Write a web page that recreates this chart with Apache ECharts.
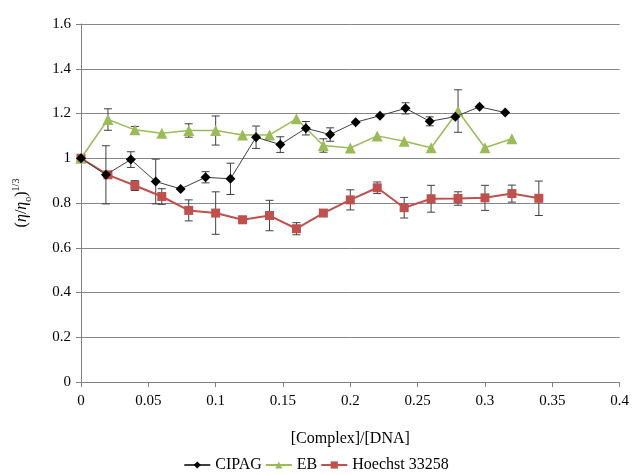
<!DOCTYPE html>
<html>
<head>
<meta charset="utf-8">
<script src="https://cdn.jsdelivr.net/npm/echarts@6/dist/echarts.min.js"></script>
<style>
  html, body { margin: 0; padding: 0; background: #fff; }
  #chart { width: 632px; height: 475px; }
</style>
</head>
<body>
<div id="chart"></div>
<script>
// x positions
var xCipag = [0, 0.0185, 0.037, 0.0555, 0.074, 0.0925, 0.111, 0.13, 0.148, 0.167, 0.185, 0.204, 0.222, 0.241, 0.259, 0.278, 0.296, 0.315];
var xEb = [0, 0.02, 0.04, 0.06, 0.08, 0.1, 0.12, 0.14, 0.16, 0.18, 0.2, 0.22, 0.24, 0.26, 0.28, 0.3, 0.32];
var xHoechst = [0, 0.02, 0.04, 0.06, 0.08, 0.1, 0.12, 0.14, 0.16, 0.18, 0.2, 0.22, 0.24, 0.26, 0.28, 0.3, 0.32, 0.34];

// (eta/eta0)^(1/3) values
var yCipag = [1.0, 0.926, 0.994, 0.896, 0.863, 0.915, 0.908, 1.094, 1.061, 1.134, 1.106, 1.161, 1.19, 1.223, 1.165, 1.186, 1.23, 1.204];
var yEb = [1.0, 1.173, 1.127, 1.112, 1.124, 1.124, 1.104, 1.104, 1.176, 1.057, 1.046, 1.1, 1.076, 1.047, 1.211, 1.047, 1.087];
var yHoechst = [1.0, 0.926, 0.878, 0.829, 0.767, 0.755, 0.725, 0.744, 0.685, 0.755, 0.814, 0.868, 0.779, 0.819, 0.82, 0.823, 0.842, 0.821];

// error (+/-)
var eCipag = [0, 0.13, 0.035, 0.1, 0, 0.025, 0.07, 0.05, 0.035, 0.03, 0.03, 0, 0, 0.025, 0.02, 0, 0, 0];
var eEb = [0, 0.048, 0.015, 0, 0.03, 0.065, 0, 0, 0, 0.03, 0, 0, 0, 0, 0.095, 0, 0];
var eHoechst = [0, 0, 0.022, 0.035, 0.047, 0.095, 0.015, 0.068, 0.027, 0, 0.045, 0.026, 0.046, 0.06, 0.03, 0.056, 0.038, 0.077];

var serif = '"Liberation Serif", "DejaVu Serif", serif';

function pts(xs, ys) {
  var out = [];
  for (var i = 0; i < xs.length; i++) out.push([xs[i], ys[i]]);
  return out;
}
function errs(xs, ys, es) {
  var out = [];
  for (var i = 0; i < xs.length; i++) {
    if (es[i] > 0) out.push([xs[i], ys[i] - es[i], ys[i] + es[i]]);
  }
  return out;
}
function errItem(params, api) {
  var lo = api.coord([api.value(0), api.value(1)]);
  var hi = api.coord([api.value(0), api.value(2)]);
  var w = 4;
  var st = { stroke: '#404040', lineWidth: 1 };
  return {
    type: 'group',
    children: [
      { type: 'line', shape: { x1: lo[0], y1: lo[1], x2: hi[0], y2: hi[1] }, style: st },
      { type: 'line', shape: { x1: lo[0] - w, y1: lo[1], x2: lo[0] + w, y2: lo[1] }, style: st },
      { type: 'line', shape: { x1: hi[0] - w, y1: hi[1], x2: hi[0] + w, y2: hi[1] }, style: st }
    ]
  };
}

var myChart = echarts.init(document.getElementById('chart'));
var option = {
  backgroundColor: '#fff',
  animation: false,
  grid: { left: 81, right: 8, top: 24, bottom: 93 },
  legend: {
    bottom: -3,
    left: 'center',
    itemWidth: 26,
    itemHeight: 9,
    itemGap: 3,
    textStyle: { fontFamily: serif, fontSize: 16, color: '#000' },
    data: ['CIPAG', 'EB', 'Hoechst 33258']
  },
  xAxis: {
    type: 'value',
    min: 0, max: 0.4, interval: 0.05,
    name: '[Complex]/[DNA]',
    nameLocation: 'middle',
    nameGap: 49,
    nameTextStyle: { fontFamily: serif, fontSize: 16, color: '#000' },
    axisLine: { lineStyle: { color: '#808080', width: 1 } },
    axisTick: { show: true, length: 5, lineStyle: { color: '#808080' } },
    axisLabel: { fontFamily: serif, fontSize: 15, color: '#000', margin: 12 },
    splitLine: { show: false }
  },
  yAxis: {
    type: 'value',
    min: 0, max: 1.6, interval: 0.2,
    name: '{a|(}{i|η}{a|/}{i|η}{s|o}{a|)}{p|1/3}',
    nameLocation: 'middle',
    nameGap: 48,
    nameRotate: 90,
    nameTextStyle: {
      fontFamily: serif, fontSize: 16, color: '#000',
      rich: {
        a: { fontFamily: serif, fontSize: 16, color: '#000', verticalAlign: 'middle', lineHeight: 22 },
        i: { fontFamily: serif, fontSize: 16, fontStyle: 'italic', color: '#000', verticalAlign: 'middle', lineHeight: 22 },
        s: { fontFamily: serif, fontSize: 10, color: '#000', verticalAlign: 'bottom', lineHeight: 22 },
        p: { fontFamily: serif, fontSize: 10, color: '#000', verticalAlign: 'top', lineHeight: 22 }
      }
    },
    axisLine: { show: true, lineStyle: { color: '#808080', width: 1 } },
    axisTick: { show: true, length: 5, lineStyle: { color: '#808080' } },
    axisLabel: {
      fontFamily: serif, fontSize: 15, color: '#000', margin: 10,
      formatter: function (v) { return String(+v.toFixed(1)); }
    },
    splitLine: { show: true, lineStyle: { color: '#868686', width: 1 } }
  },
  series: [
    {
      name: 'CIPAG-err', type: 'custom', renderItem: errItem, z: 1,
      data: errs(xCipag, yCipag, eCipag), silent: true, encode: { x: 0, y: [1, 2] }
    },
    {
      name: 'EB-err', type: 'custom', renderItem: errItem, z: 1,
      data: errs(xEb, yEb, eEb), silent: true, encode: { x: 0, y: [1, 2] }
    },
    {
      name: 'Hoechst-err', type: 'custom', renderItem: errItem, z: 1,
      data: errs(xHoechst, yHoechst, eHoechst), silent: true, encode: { x: 0, y: [1, 2] }
    },
    {
      name: 'CIPAG', type: 'line', z: 4,
      data: pts(xCipag, yCipag),
      symbol: 'diamond', symbolSize: 10,
      itemStyle: { color: '#000' },
      lineStyle: { color: '#404040', width: 1 }
    },
    {
      name: 'EB', type: 'line', z: 3,
      data: pts(xEb, yEb),
      symbol: 'triangle', symbolSize: 11,
      itemStyle: { color: '#9BBB59' },
      lineStyle: { color: '#9BBB59', width: 1.5 }
    },
    {
      name: 'Hoechst 33258', type: 'line', z: 2,
      data: pts(xHoechst, yHoechst),
      symbol: 'rect', symbolSize: 9,
      itemStyle: { color: '#C0504D' },
      lineStyle: { color: '#C0504D', width: 2 }
    }
  ]
};
myChart.setOption(option);
</script>
</body>
</html>
